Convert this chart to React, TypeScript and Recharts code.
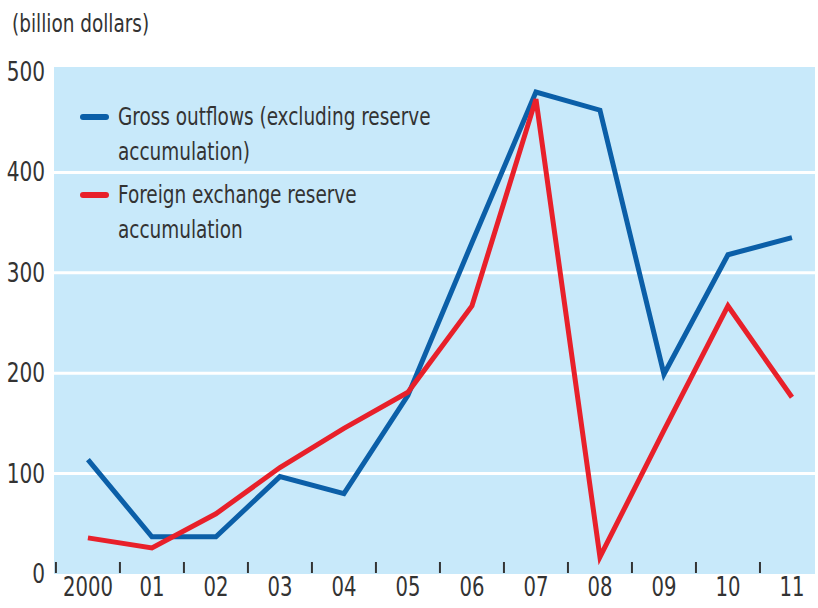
import { LineChart, Line, XAxis, YAxis, CartesianGrid, ReferenceLine } from 'recharts';

const years = ['2000', '01', '02', '03', '04', '05', '06', '07', '08', '09', '10', '11'];
const grossOutflows = [114, 37, 37, 97, 80, 178, 330, 480, 462, 199, 318, 335];
const reserveAccumulation = [36, 26, 60, 106, 145, 181, 267, 473, 17, 143, 267, 176];
const yTicks = [0, 100, 200, 300, 400, 500];
const gridValues = [100, 200, 300, 400];
const legendItems = [
  { lines: ['Gross outflows (excluding reserve', 'accumulation)'], color: '#0b5fa8' },
  { lines: ['Foreign exchange reserve', 'accumulation'], color: '#e8202a' },
];

const FONT = '"Liberation Sans Narrow", "DejaVu Sans Condensed", "Roboto", sans-serif';
const TEXT = '#333333';

const data = years.map((label, i) => ({
  x: i,
  label,
  gross: grossOutflows[i],
  reserve: reserveAccumulation[i],
}));

// labels at whole years, short tick marks between years
const xTicks: number[] = [];
for (let i = 0; i < years.length; i++) {
  xTicks.push(i - 0.5);
  xTicks.push(i);
}

function XTick(props: any) {
  const { x, y, payload } = props;
  const v = payload.value as number;
  if (Number.isInteger(v)) {
    return (
      <text
        transform={`translate(${x},${y + 22}) scale(0.84,1)`}
        textAnchor="middle"
        fontFamily={FONT}
        fontSize={26}
        fill={TEXT}
      >
        {years[v]}
      </text>
    );
  }
  return <line x1={x} x2={x} y1={y - 12} y2={y - 1} stroke={TEXT} strokeWidth={2} />;
}

function YTick(props: any) {
  const { x, y, payload } = props;
  return (
    <text
      transform={`translate(${x},${y + 9}) scale(0.86,1)`}
      textAnchor="end"
      fontFamily={FONT}
      fontSize={26}
      fill={TEXT}
    >
      {payload.value}
    </text>
  );
}

export default function App() {
  return (
    <div style={{ position: 'absolute', left: 0, top: 0, width: 818, height: 608, background: '#fff' }}>
      <div
        style={{
          position: 'absolute',
          left: 12,
          top: 9,
          fontFamily: FONT,
          fontSize: 25,
          color: TEXT,
          whiteSpace: 'nowrap',
          transform: 'scaleX(0.82)',
          transformOrigin: 'left top',
        }}
      >
        (billion dollars)
      </div>
      <LineChart width={818} height={608} data={data} margin={{ top: 67, right: 3, bottom: 0, left: 0 }}>
        <CartesianGrid fill="#c8e9fa" stroke="none" horizontal={false} vertical={false} />
        {gridValues.map((v) => (
          <ReferenceLine key={v} y={v} stroke="#ffffff" strokeWidth={3} />
        ))}
        <XAxis
          dataKey="x"
          type="number"
          domain={[-0.53, 11.36]}
          ticks={xTicks}
          interval={0}
          tick={<XTick />}
          tickLine={false}
          axisLine={false}
          tickSize={0}
          tickMargin={0}
          height={34}
        />
        <YAxis
          type="number"
          domain={[0, 505]}
          ticks={yTicks}
          interval={0}
          tick={<YTick />}
          tickLine={false}
          axisLine={false}
          tickSize={0}
          tickMargin={9}
          width={54}
        />
        <Line
          type="linear"
          dataKey="gross"
          stroke="#0b5fa8"
          strokeWidth={5}
          dot={false}
          isAnimationActive={false}
        />
        <Line
          type="linear"
          dataKey="reserve"
          stroke="#e8202a"
          strokeWidth={5}
          dot={false}
          isAnimationActive={false}
        />
      </LineChart>
      <div style={{ position: 'absolute', left: 80, top: 99, fontFamily: FONT, fontSize: 25, color: TEXT }}>
        {legendItems.map((item) => (
          <div key={item.color} style={{ display: 'flex', alignItems: 'flex-start', marginBottom: 8 }}>
            <div
              style={{
                width: 29,
                height: 6,
                borderRadius: 3,
                background: item.color,
                marginTop: 15,
                marginRight: 9,
                flexShrink: 0,
              }}
            />
            <div
              style={{
                lineHeight: '35px',
                whiteSpace: 'nowrap',
                transform: 'scaleX(0.82)',
                transformOrigin: 'left top',
              }}
            >
              {item.lines.map((l) => (
                <div key={l}>{l}</div>
              ))}
            </div>
          </div>
        ))}
      </div>
    </div>
  );
}
